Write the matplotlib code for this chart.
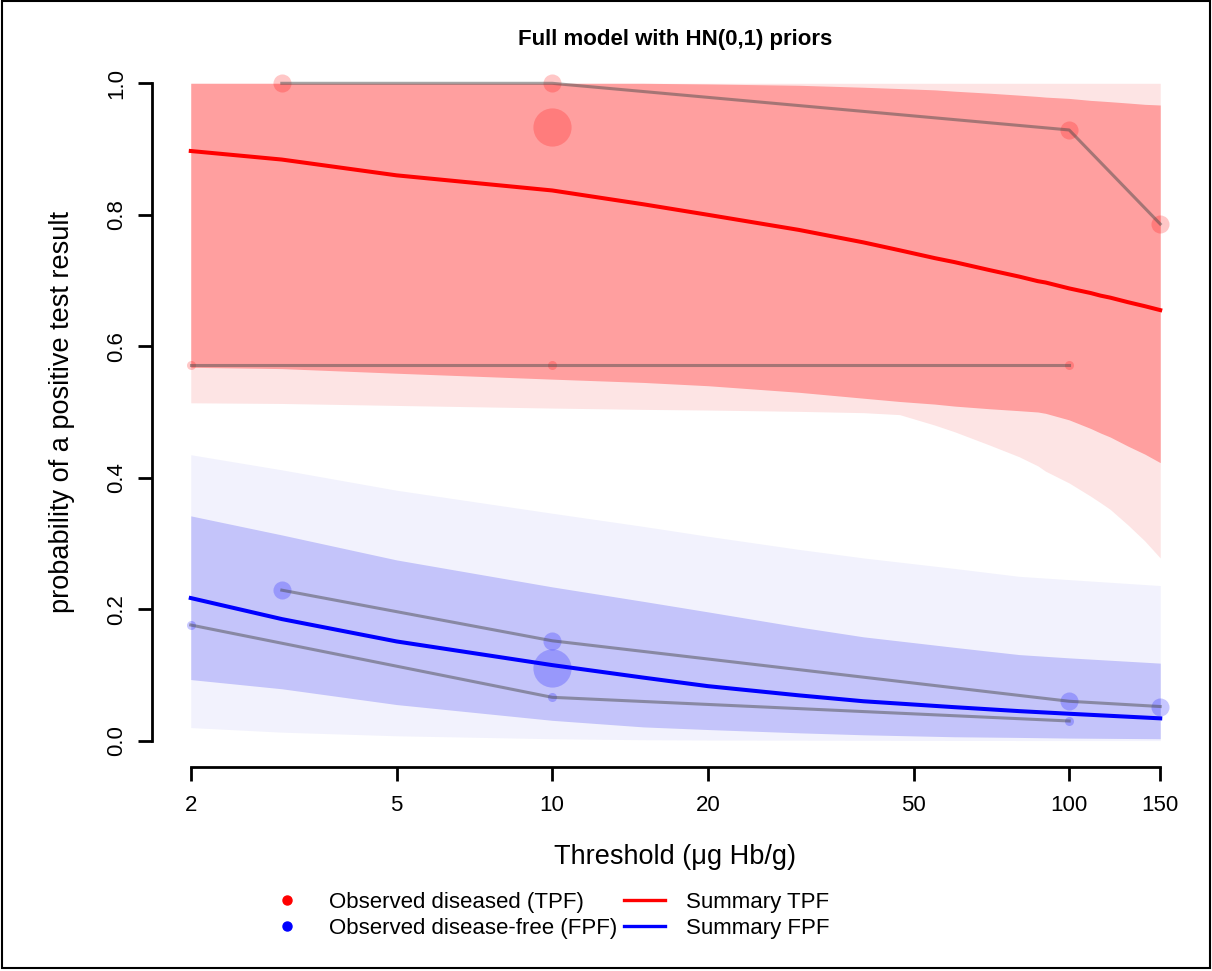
import numpy as np
import matplotlib
matplotlib.use("Agg")
import matplotlib.pyplot as plt
from matplotlib.lines import Line2D
from matplotlib.patches import Rectangle
from matplotlib.ticker import FixedLocator, NullLocator, FixedFormatter

plt.rcParams['font.family'] = ['Liberation Sans', 'DejaVu Sans']

# ---- summary curves / credible & prediction bands ----
# TPF (diseased)
t_tpf = [2, 3, 5, 10, 15, 20, 30, 40, 47, 55, 60, 70, 80, 87, 90, 100, 110, 115, 120, 130, 140, 150]
tpf_mean = [0.897, 0.884, 0.860, 0.837, 0.816, 0.800, 0.777, 0.758, 0.746, 0.734, 0.728, 0.716, 0.706, 0.699, 0.697, 0.688, 0.681, 0.677, 0.674, 0.667, 0.661, 0.655]
tpf_ci_lo = [0.568, 0.566, 0.559, 0.550, 0.545, 0.540, 0.530, 0.521, 0.516, 0.512, 0.509, 0.505, 0.502, 0.500, 0.498, 0.488, 0.475, 0.468, 0.462, 0.448, 0.436, 0.423]
tpf_ci_hi = [1.0, 1.0, 1.0, 1.0, 1.0, 0.999, 0.997, 0.994, 0.992, 0.990, 0.988, 0.985, 0.982, 0.980, 0.979, 0.977, 0.974, 0.973, 0.972, 0.970, 0.968, 0.967]
tpf_pi_lo = [0.514, 0.513, 0.510, 0.506, 0.504, 0.503, 0.501, 0.499, 0.496, 0.480, 0.470, 0.450, 0.432, 0.418, 0.410, 0.392, 0.372, 0.362, 0.352, 0.328, 0.304, 0.278]
tpf_pi_hi = [1.0] * len(t_tpf)

# FPF (disease-free)
t_fpf = [2, 3, 5, 10, 15, 20, 30, 40, 60, 80, 100, 150]
fpf_mean = [0.217, 0.185, 0.151, 0.115, 0.096, 0.083, 0.069, 0.060, 0.051, 0.045, 0.041, 0.034]
fpf_ci_lo = [0.093, 0.079, 0.055, 0.031, 0.021, 0.017, 0.012, 0.009, 0.006, 0.005, 0.004, 0.003]
fpf_ci_hi = [0.342, 0.313, 0.275, 0.234, 0.212, 0.196, 0.173, 0.158, 0.142, 0.131, 0.126, 0.118]
fpf_pi_lo = [0.020, 0.013, 0.0075, 0.003, 0.0015, 0.001, 0.0008, 0.0006, 0.0004, 0.0003, 0.0003, 0.0002]
fpf_pi_hi = [0.435, 0.412, 0.381, 0.346, 0.326, 0.311, 0.291, 0.278, 0.262, 0.250, 0.245, 0.236]

# ---- observed study data ----
study_thr = [[3, 10, 100, 150], [2, 10, 100], [10]]
study_tpf = [[1.0, 1.0, 0.929, 0.786], [0.571, 0.571, 0.571], [0.933]]
study_fpf = [[0.229, 0.152, 0.060, 0.052], [0.176, 0.066, 0.030], [0.111]]
# marker diameters (pt), bigger = larger study
study_msize = [13, 6.5, 27.5]

xticks = [2, 5, 10, 20, 50, 100, 150]
yticks = [0.0, 0.2, 0.4, 0.6, 0.8, 1.0]

fig = plt.figure(figsize=(12.12, 9.71), dpi=100)
ax = fig.add_axes([152 / 1212, 1 - 767 / 971, 1047 / 1212, 710 / 971])

ax.fill_between(t_tpf, tpf_pi_lo, tpf_pi_hi, color='#fde4e4', lw=0)
ax.fill_between(t_tpf, tpf_ci_lo, tpf_ci_hi, color='#ff9f9f', lw=0)
ax.fill_between(t_fpf, fpf_pi_lo, fpf_pi_hi, color='#f2f2fd', lw=0)
ax.fill_between(t_fpf, fpf_ci_lo, fpf_ci_hi, color='#c4c4fa', lw=0)

for thr, tp, fp, ms in zip(study_thr, study_tpf, study_fpf, study_msize):
    ax.scatter(thr, tp, s=ms ** 2, color='red', alpha=0.22, lw=0, zorder=3)
    ax.scatter(thr, fp, s=ms ** 2, color='blue', alpha=0.22, lw=0, zorder=3)
    if len(thr) > 1:
        ax.plot(thr, tp, color='#4d4d4d', alpha=0.5, lw=2.2, zorder=4)
        ax.plot(thr, fp, color='#4d4d4d', alpha=0.5, lw=2.2, zorder=4)

ax.plot(t_tpf, tpf_mean, color='red', lw=2.9, zorder=5)
ax.plot(t_fpf, fpf_mean, color='blue', lw=2.9, zorder=5)

ax.set_xscale('log')
ax.set_xlim(2 * 10 ** (-0.04 * np.log10(75)), 150 * 10 ** (0.04 * np.log10(75)))
ax.set_ylim(-0.04, 1.04)

for s in ['top', 'right']:
    ax.spines[s].set_visible(False)
ax.spines['left'].set_bounds(0, 1)
ax.spines['bottom'].set_bounds(2, 150)
ax.spines['left'].set_linewidth(2)
ax.spines['bottom'].set_linewidth(2)

ax.xaxis.set_major_locator(FixedLocator(xticks))
ax.xaxis.set_major_formatter(FixedFormatter([str(v) for v in xticks]))
ax.xaxis.set_minor_locator(NullLocator())
ax.set_yticks(yticks)
ax.set_yticklabels(['%.1f' % v for v in yticks], rotation=90, va='center')
ax.tick_params(axis='both', length=10, width=2, labelsize=16)
ax.tick_params(axis='x', pad=10)
ax.tick_params(axis='y', pad=8)

fig.text(675.5 / 1212, 1 - 40 / 971, 'Full model with HN(0,1) priors',
         ha='center', va='center', fontsize=16, fontweight='bold')
fig.text(675.5 / 1212, 1 - 857 / 971, 'Threshold (\u03bcg Hb/g)',
         ha='center', va='center', fontsize=19.5)
fig.text(62 / 1212, 1 - 412 / 971, 'probability of a positive test result',
         ha='center', va='center', rotation=90, fontsize=19.5)

handles = [
    Line2D([], [], ls='none', marker='o', color='red', markersize=6.5),
    Line2D([], [], ls='none', marker='o', color='blue', markersize=6.5),
    Line2D([], [], color='red', lw=2.4),
    Line2D([], [], color='blue', lw=2.4),
]
labels = ['Observed diseased (TPF)', 'Observed disease-free (FPF)',
          'Summary TPF', 'Summary FPF']
fig.legend(handles, labels, ncol=2, frameon=False, fontsize=16,
           loc='center left', bbox_to_anchor=(266 / 1212, 1 - 915.5 / 971),
           handlelength=1.87, handletextpad=0.95, columnspacing=0.3,
           labelspacing=0.25, borderpad=0, borderaxespad=0)

fig.patches.append(Rectangle((2 / 1212, 3 / 971), 1208 / 1212, 967 / 971,
                             transform=fig.transFigure, fill=False,
                             lw=1.5, ec='black'))

fig.savefig('out.png', dpi=100)
